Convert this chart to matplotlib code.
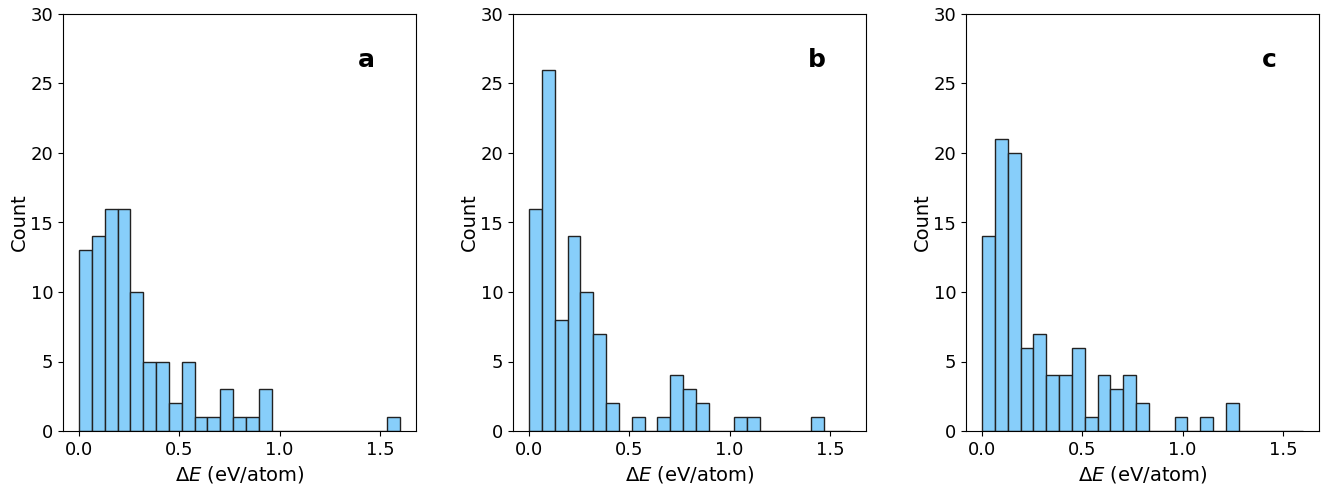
import numpy as np
import matplotlib
matplotlib.use('Agg')
from matplotlib import pyplot as plt

# histogram counts, 25 bins from 0 to 1.6 eV/atom
bin_edges = np.linspace(0.0, 1.6, 26)
counts_a = [13, 14, 16, 16, 10, 5, 5, 2, 5, 1, 1, 3, 1, 1, 3, 0, 0, 0, 0, 0, 0, 0, 0, 0, 1]
counts_b = [16, 26, 8, 14, 10, 7, 2, 0, 1, 0, 1, 4, 3, 2, 0, 0, 1, 1, 0, 0, 0, 0, 1, 0, 0]
counts_c = [14, 21, 20, 6, 7, 4, 4, 6, 1, 4, 3, 4, 2, 0, 0, 1, 0, 1, 0, 2, 0, 0, 0, 0, 0]
panel_labels = ['a', 'b', 'c']

fig = plt.figure(figsize=(13.32, 4.94), dpi=100)
lefts = [63, 513, 966]
width = 353
bottom = 63
height = 417

for left, counts, lab in zip(lefts, [counts_a, counts_b, counts_c], panel_labels):
    ax = fig.add_axes([left / 1332, bottom / 494, width / 1332, height / 494])
    widths = np.diff(bin_edges)
    ax.bar(bin_edges[:-1], counts, width=widths, align='edge',
           color='#87cefa', edgecolor='#222222', linewidth=1.0)
    ax.set_xlim(-0.08, 1.68)
    ax.set_ylim(0, 30)
    ax.set_xticks([0.0, 0.5, 1.0, 1.5])
    ax.set_yticks([0, 5, 10, 15, 20, 25, 30])
    ax.tick_params(labelsize=13)
    ax.set_xlabel(r'$\Delta E$ (eV/atom)', fontsize=14)
    ax.set_ylabel('Count', fontsize=14, labelpad=1)
    ax.text(0.86, 0.89, lab, transform=ax.transAxes, fontsize=18,
            fontweight='bold', ha='center', va='center')

plt.savefig('out.png', dpi=100)
